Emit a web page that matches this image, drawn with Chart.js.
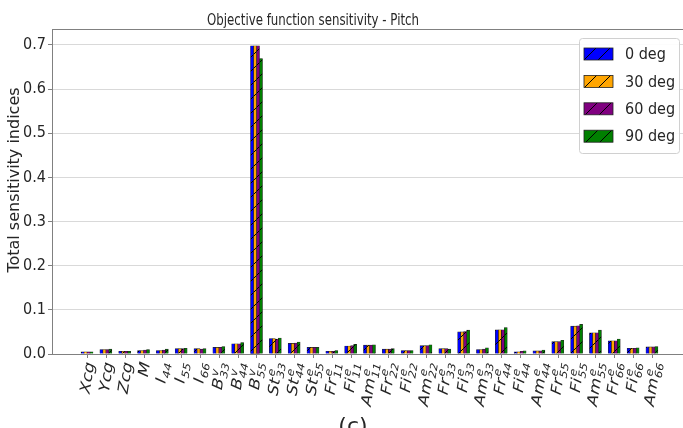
<!DOCTYPE html>
<html>
<head>
<meta charset="utf-8">
<title>Objective function sensitivity - Pitch</title>
<script src="https://cdn.jsdelivr.net/npm/chart.js@4.4.1/dist/chart.umd.min.js"></script>
<style>
  html, body { margin: 0; padding: 0; background: #fff; }
  #wrap { width: 683px; height: 428px; }
</style>
</head>
<body>
<div id="wrap"><canvas id="sensChart" width="683" height="428"></canvas></div>
<script>
// ── Parameters (symbol, superscript, subscript) ─────────────
const paramBase = ["Xcg", "Ycg", "Zcg", "M", "I", "I", "I", "B", "B", "B", "St", "St", "St",
  "Fr", "Fi", "Am", "Fr", "Fi", "Am", "Fr", "Fi", "Am",
  "Fr", "Fi", "Am", "Fr", "Fi", "Am", "Fr", "Fi", "Am"];
const paramSup = ["", "", "", "", "", "", "", "v", "v", "v", "e", "e", "e",
  "e", "e", "e", "e", "e", "e", "e", "e", "e",
  "e", "e", "e", "e", "e", "e", "e", "e", "e"];
const paramSub = ["", "", "", "", "44", "55", "66", "33", "44", "55", "33", "44", "55",
  "11", "11", "11", "22", "22", "22", "33", "33", "33",
  "44", "44", "44", "55", "55", "55", "66", "66", "66"];

// ── Total sensitivity indices per heading ───────────────────
const deg0 = [0.005, 0.010, 0.006, 0.008, 0.008, 0.012, 0.012, 0.015, 0.023, 0.698, 0.035, 0.024, 0.015,
  0.006, 0.018, 0.020, 0.011, 0.008, 0.019, 0.012, 0.050, 0.010,
  0.055, 0.005, 0.007, 0.028, 0.063, 0.048, 0.030, 0.013, 0.016];
const deg30 = [0.005, 0.010, 0.006, 0.008, 0.008, 0.012, 0.012, 0.015, 0.023, 0.698, 0.035, 0.024, 0.015,
  0.006, 0.018, 0.020, 0.011, 0.008, 0.019, 0.012, 0.050, 0.010,
  0.055, 0.005, 0.007, 0.028, 0.063, 0.048, 0.030, 0.013, 0.016];
const deg60 = [0.005, 0.010, 0.006, 0.009, 0.009, 0.012, 0.011, 0.015, 0.023, 0.698, 0.034, 0.025, 0.015,
  0.006, 0.019, 0.020, 0.011, 0.008, 0.019, 0.012, 0.051, 0.011,
  0.055, 0.006, 0.007, 0.028, 0.064, 0.048, 0.030, 0.013, 0.016];
const deg90 = [0.005, 0.011, 0.006, 0.010, 0.011, 0.013, 0.012, 0.017, 0.026, 0.669, 0.036, 0.027, 0.015,
  0.008, 0.022, 0.021, 0.012, 0.008, 0.021, 0.011, 0.054, 0.014,
  0.060, 0.007, 0.009, 0.031, 0.067, 0.054, 0.034, 0.014, 0.017];

const seriesNames = ["0 deg", "30 deg", "60 deg", "90 deg"];
const seriesColors = ["#0000ff", "#ffa500", "#800080", "#008000"];
const yTicks = [0, 0.1, 0.2, 0.3, 0.4, 0.5, 0.6, 0.7];

const TEXT = "#262626";
const SPINE = "#808080";
const NARROW = '"DejaVu Sans Condensed", "DejaVu Sans", sans-serif';
const MATH = '"DejaVu Sans", sans-serif';

// ── Hatch fill ("/") ────────────────────────────────────────
function hatchFill(color) {
  const s = 14;
  const tile = document.createElement("canvas");
  tile.width = s;
  tile.height = s;
  const g = tile.getContext("2d");
  g.fillStyle = color;
  g.fillRect(0, 0, s, s);
  g.strokeStyle = "#000";
  g.lineWidth = 1;
  g.beginPath();
  g.moveTo(-s / 2, s / 2); g.lineTo(s / 2, -s / 2);
  g.moveTo(0, s); g.lineTo(s, 0);
  g.moveTo(s / 2, s * 1.5); g.lineTo(s * 1.5, s / 2);
  g.stroke();
  return g.createPattern(tile, "repeat");
}

// ── Rotated mathtext-style tick label ───────────────────────
function drawParamLabel(ctx, base, sup, sub, px, top) {
  const mainFont = "italic 17px " + MATH;
  const scriptFont = "italic 12px " + MATH;
  ctx.font = mainFont;
  const wMain = ctx.measureText(base).width;
  ctx.font = scriptFont;
  const wScript = Math.max(ctx.measureText(sup).width, ctx.measureText(sub).width);
  const len = wMain + (wScript ? wScript + 1 : 0);
  const ang = 80 * Math.PI / 180;

  ctx.save();
  ctx.translate(px + Math.cos(ang) * len / 2 - 1, top);
  ctx.scale(0.86, 1);
  ctx.rotate(-ang);
  ctx.fillStyle = TEXT;
  ctx.textAlign = "left";
  ctx.textBaseline = "alphabetic";
  ctx.font = mainFont;
  ctx.fillText(base, -len, 6);
  ctx.font = scriptFont;
  if (sup) ctx.fillText(sup, -len + wMain + 1, -1);
  if (sub) ctx.fillText(sub, -len + wMain + 1, 10);
  ctx.restore();
}

// text squeezed horizontally to a given width
function fitText(ctx, text, cx, y, width) {
  const w = ctx.measureText(text).width;
  ctx.save();
  ctx.translate(cx, y);
  ctx.scale(width / w, 1);
  ctx.textAlign = "center";
  ctx.fillText(text, 0, 0);
  ctx.restore();
}

// ── Title, frame, x labels, legend ──────────────────────────
const figureText = {
  id: "figureText",
  afterDraw(chart) {
    const { ctx, chartArea: area, scales: { x } } = chart;
    ctx.save();

    // top spine
    ctx.strokeStyle = SPINE;
    ctx.lineWidth = 1;
    ctx.beginPath();
    ctx.moveTo(area.left, area.top + 0.5);
    ctx.lineTo(area.right, area.top + 0.5);
    ctx.stroke();

    // title
    ctx.fillStyle = TEXT;
    ctx.font = "15px " + MATH;
    ctx.textBaseline = "alphabetic";
    fitText(ctx, "Objective function sensitivity - Pitch", 313, 24.5, 212);

    // y axis title
    ctx.save();
    ctx.translate(15, 180);
    ctx.rotate(-Math.PI / 2);
    ctx.font = "16px " + MATH;
    ctx.textAlign = "center";
    ctx.textBaseline = "middle";
    ctx.fillText("Total sensitivity indices", 0, 0);
    ctx.restore();

    // x ticks and parameter labels
    ctx.strokeStyle = SPINE;
    paramBase.forEach((base, i) => {
      const px = Math.round(x.getPixelForValue(i)) + 0.5;
      ctx.beginPath();
      ctx.moveTo(px, area.bottom);
      ctx.lineTo(px, area.bottom + 4);
      ctx.stroke();
      drawParamLabel(ctx, base, paramSup[i], paramSub[i], px, area.bottom + 8);
    });

    // legend
    const lx = 579, ly = 38, lw = 100, lh = 115;
    ctx.fillStyle = "rgba(255,255,255,0.9)";
    ctx.strokeStyle = "#d0d0d0";
    ctx.beginPath();
    ctx.roundRect(lx + 0.5, ly + 0.5, lw, lh, 3);
    ctx.fill();
    ctx.stroke();
    ctx.font = "16px " + NARROW;
    ctx.textAlign = "left";
    ctx.textBaseline = "middle";
    chart.data.datasets.forEach((ds, i) => {
      const cy = 54 + i * 27.4;
      ctx.fillStyle = ds.backgroundColor;
      ctx.fillRect(584, cy - 6, 29, 12);
      ctx.strokeStyle = "#222";
      ctx.lineWidth = 0.8;
      ctx.strokeRect(584, cy - 6, 29, 12);
      ctx.fillStyle = TEXT;
      ctx.fillText(ds.label, 625, cy + 1);
    });

    // panel tag, cut by the bottom edge
    ctx.font = "22px " + MATH;
    ctx.textAlign = "center";
    ctx.textBaseline = "alphabetic";
    ctx.fillStyle = TEXT;
    ctx.fillText("(c)", 353, 433);

    ctx.restore();
  }
};

// ── Chart ───────────────────────────────────────────────────
const seriesValues = [deg0, deg30, deg60, deg90];

new Chart(document.getElementById("sensChart").getContext("2d"), {
  type: "bar",
  data: {
    datasets: seriesValues.map((vals, k) => ({
      label: seriesNames[k],
      data: vals.map((v, i) => ({ x: i, y: v })),
      backgroundColor: hatchFill(seriesColors[k]),
      borderColor: "rgba(0,0,0,0.85)",
      borderWidth: 0.6,
      barThickness: 3
    }))
  },
  options: {
    responsive: false,
    animation: false,
    layout: { padding: { top: 29, left: 0, right: 0, bottom: 0 } },
    plugins: {
      legend: { display: false },
      tooltip: { enabled: false },
      title: { display: false }
    },
    scales: {
      x: {
        type: "linear",
        offset: false,
        min: -1.86,
        max: 31.65,
        grid: { display: false, offset: false },
        ticks: { display: false },
        border: { color: SPINE },
        afterFit(scale) { scale.height = 74; }
      },
      y: {
        min: 0,
        max: 0.736,
        afterBuildTicks(scale) { scale.ticks = yTicks.map(v => ({ value: v })); },
        ticks: {
          callback: v => v.toFixed(1),
          color: TEXT,
          padding: 2,
          font: { size: 16, family: NARROW }
        },
        grid: { color: "#d9d9d9", tickColor: SPINE, tickLength: 4 },
        border: { color: SPINE },
        afterFit(scale) { scale.width = 52; }
      }
    }
  },
  plugins: [figureText]
});
</script>
</body>
</html>
